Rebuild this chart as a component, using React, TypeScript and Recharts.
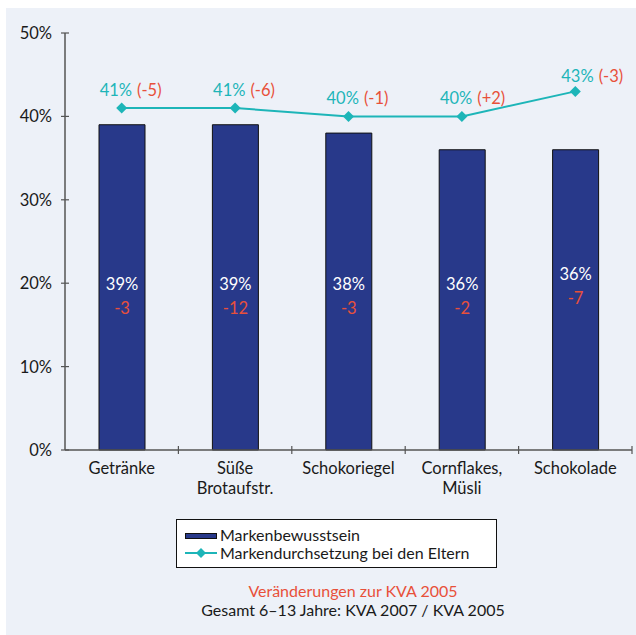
import React from 'react';
import { ComposedChart, Bar, Line, XAxis, YAxis, Legend, LabelList } from 'recharts';

const categories = ['Getränke', 'Süße\nBrotaufstr.', 'Schokoriegel', 'Cornflakes,\nMüsli', 'Schokolade'];
const brandAwareness = [39, 39, 38, 36, 36];
const awarenessChange = ['-3', '-12', '-3', '-2', '-7'];
const parentAdoption = [41, 41, 40, 40, 43];
const adoptionChange = ['(-5)', '(-6)', '(-1)', '(+2)', '(-3)'];
const yTicks = [0, 10, 20, 30, 40, 50];
const barLabelLevel = 20;

const seriesNames = ['Markenbewusstsein', 'Markendurchsetzung bei den Eltern'];
const noteLines = ['Veränderungen zur KVA 2005', 'Gesamt 6–13 Jahre: KVA 2007 / KVA 2005'];

const data = categories.map((c, i) => ({ name: c, bar: brandAwareness[i], line: parentAdoption[i] }));

const NAVY = '#28398a';
const TEAL = '#1db5b8';
const RED = '#e8503a';
const AXIS = '#555';
const BG = '#edf1f8';
const FONT = 'Lato, "Open Sans", sans-serif';

const YTick = (props: any) => {
  const { x, y, payload } = props;
  return (
    <g>
      <line x1={x + 9} x2={x + 17} y1={y} y2={y} stroke={AXIS} strokeWidth={1.2} />
      <text x={x} y={y} dy={6} textAnchor="end" fontSize={16.5} fill="#1a1a1a" fontFamily={FONT}>
        {payload.value}%
      </text>
    </g>
  );
};

const XTick = (props: any) => {
  const { x, y, payload } = props;
  const lines = String(payload.value).split('\n');
  const off = payload.offset || 0;
  return (
    <g>
      <line x1={x + off} x2={x + off} y1={y - 4} y2={y + 4} stroke={AXIS} strokeWidth={1.2} />
      {lines.map((l, i) => (
        <text key={i} x={x} y={y + 24 + i * 20} textAnchor="middle" fontSize={16.5} fill="#1a1a1a" fontFamily={FONT}>
          {l}
        </text>
      ))}
    </g>
  );
};

const Diamond = (props: any) => {
  const { cx, cy } = props;
  if (cx == null || cy == null) return null;
  const r = 5.5;
  return <polygon points={`${cx},${cy - r} ${cx + r},${cy} ${cx},${cy + r} ${cx - r},${cy}`} fill={TEAL} />;
};

const BarLabel = (props: any) => {
  const { x, y, width, height, value, index } = props;
  const base = y + height;
  const perUnit = height / value;
  const lift = index === categories.length - 1 ? 10 : 0;
  const ly = base - barLabelLevel * perUnit - lift;
  const cx = x + width / 2;
  return (
    <g fontFamily={FONT} fontSize={16.5}>
      <text x={cx} y={ly} dy={7} textAnchor="middle" fill="#fff">{value}%</text>
      <text x={cx} y={ly} dy={31} textAnchor="middle" fill={RED}>{awarenessChange[index]}</text>
    </g>
  );
};

const LineLabel = (props: any) => {
  const { x, y, value, index } = props;
  const last = index === categories.length - 1;
  return (
    <text x={x - (last ? 14 : 22)} y={y - (last ? 9 : 12)} textAnchor="start" fontFamily={FONT} fontSize={16.5}>
      <tspan fill={TEAL}>{value}%</tspan>
      <tspan fill={RED} dx={5}>{adoptionChange[index]}</tspan>
    </text>
  );
};

const renderLegend = () => (
  <div style={{ position: 'relative', width: 630, height: 0, fontFamily: FONT, fontSize: 16, color: '#1a1a1a' }}>
    <div
      style={{
        position: 'absolute',
        left: 170,
        top: 511,
        width: 321,
        height: 49,
        border: '1px solid #111',
        background: '#fff',
        boxSizing: 'border-box',
        paddingTop: 6,
      }}
    >
      <div style={{ position: 'relative', height: 18, lineHeight: '18px' }}>
        <div style={{ position: 'absolute', left: 8, top: 7, width: 30, height: 4, background: NAVY, border: '1px solid #111' }} />
        <span style={{ position: 'absolute', left: 43, top: 0, whiteSpace: 'nowrap' }}>{seriesNames[0]}</span>
      </div>
      <div style={{ position: 'relative', height: 18, lineHeight: '18px' }}>
        <svg style={{ position: 'absolute', left: 8, top: 0 }} width={32} height={18}>
          <line x1={0} x2={32} y1={9} y2={9} stroke={TEAL} strokeWidth={2} />
          <polygon points="16,4 21,9 16,14 11,9" fill={TEAL} />
        </svg>
        <span style={{ position: 'absolute', left: 43, top: 0, whiteSpace: 'nowrap' }}>{seriesNames[1]}</span>
      </div>
    </div>
    <div style={{ position: 'absolute', left: 147, top: 573, width: 400, textAlign: 'center', lineHeight: '19px', color: RED }}>
      {noteLines[0]}
    </div>
    <div style={{ position: 'absolute', left: 147, top: 592, width: 400, textAlign: 'center', lineHeight: '19px' }}>
      {noteLines[1]}
    </div>
  </div>
);

export default function App() {
  return (
    <div style={{ position: 'absolute', left: 6, top: 8, width: 630, height: 627, background: BG }}>
      <ComposedChart width={630} height={627} data={data} margin={{ top: 25, right: 4, left: 9, bottom: 125 }}>
        <XAxis
          dataKey="name"
          interval={0}
          height={60}
          tickSize={0}
          tickMargin={0}
          tickLine={false}
          axisLine={{ stroke: AXIS, strokeWidth: 1.5 }}
          tick={<XTick />}
        />
        <YAxis
          width={50}
          domain={[0, 50]}
          ticks={yTicks}
          tickSize={0}
          tickMargin={13}
          tickLine={false}
          axisLine={{ stroke: AXIS, strokeWidth: 1.5 }}
          tick={<YTick />}
        />
        <Legend
          content={renderLegend}
          wrapperStyle={{ position: 'absolute', left: 0, top: 0, bottom: 'auto', width: 630, height: 0 }}
        />
        <Bar dataKey="bar" name={seriesNames[0]} fill={NAVY} stroke="#111" strokeWidth={1} barSize={46} isAnimationActive={false}>
          <LabelList dataKey="bar" content={<BarLabel />} />
        </Bar>
        <Line
          dataKey="line"
          name={seriesNames[1]}
          stroke={TEAL}
          strokeWidth={2}
          dot={<Diamond />}
          activeDot={false}
          type="linear"
          isAnimationActive={false}
        >
          <LabelList dataKey="line" content={<LineLabel />} />
        </Line>
      </ComposedChart>
    </div>
  );
}
